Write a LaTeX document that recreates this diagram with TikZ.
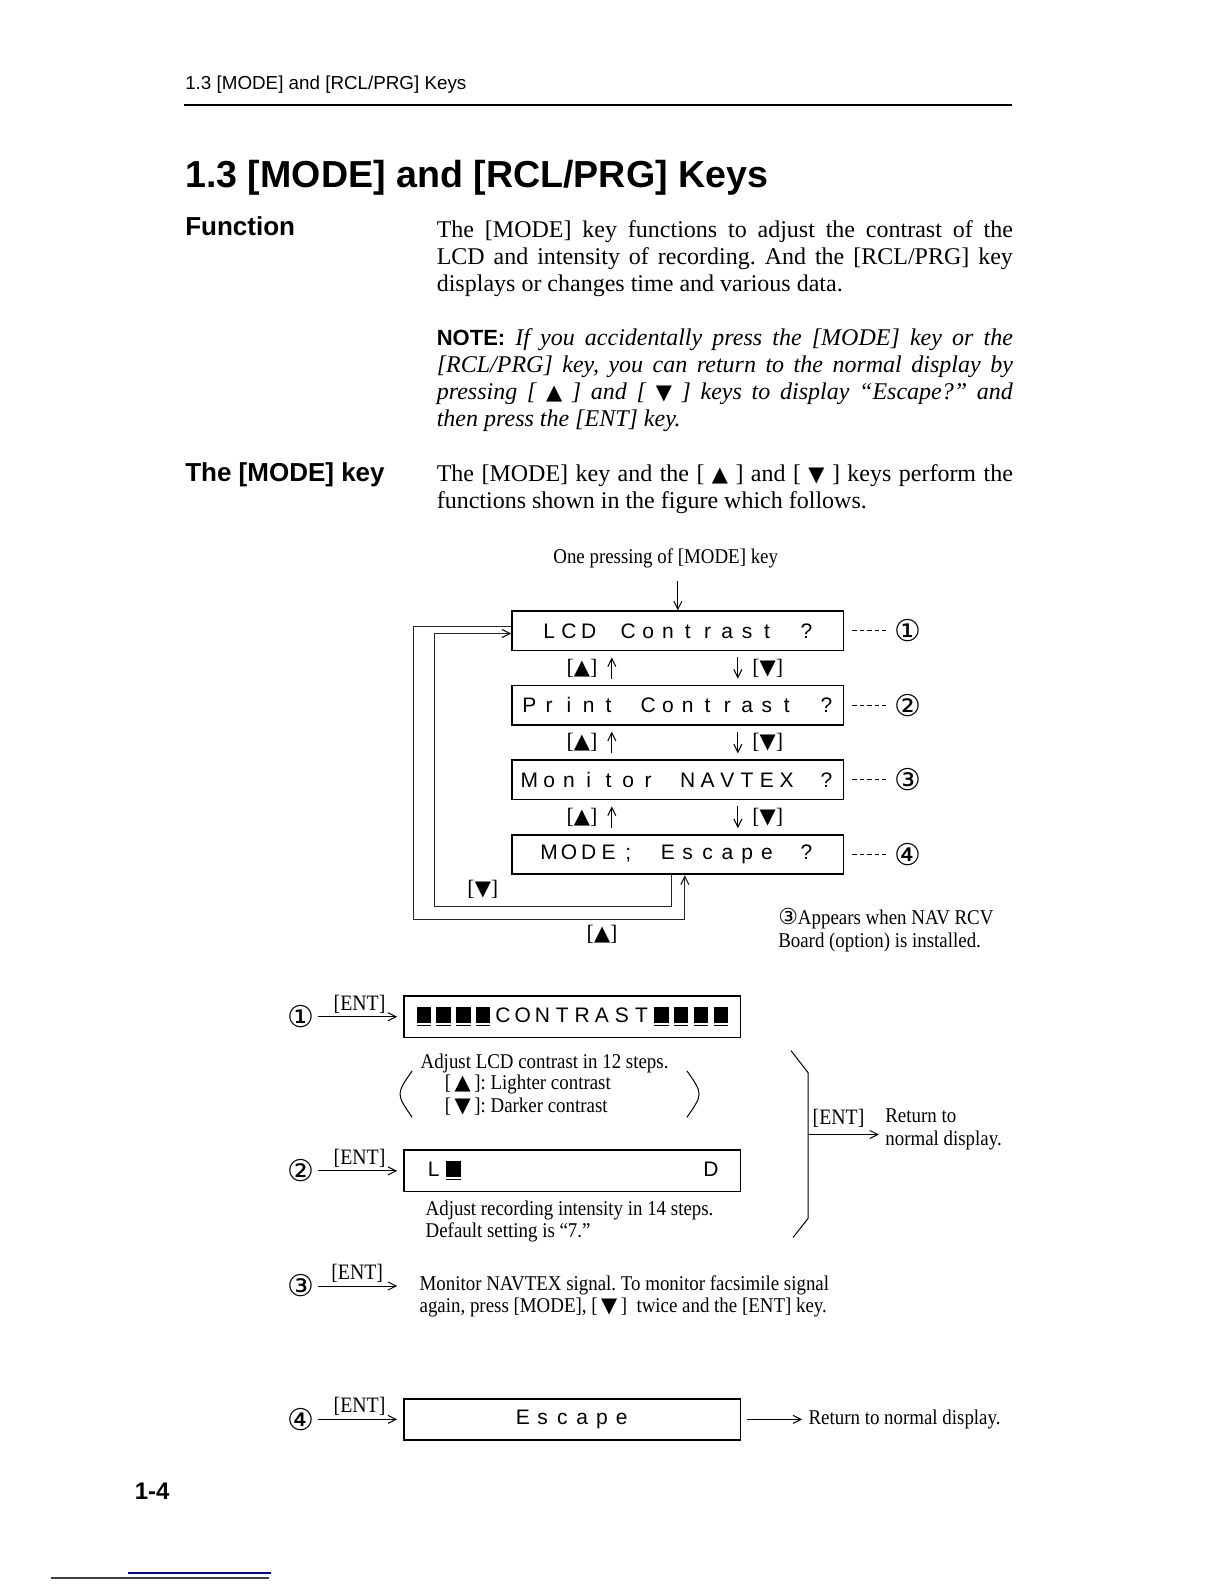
\documentclass[tikz,border=0pt]{standalone}
\usepackage{fontspec}
\setmainfont{Liberation Serif}
\setsansfont{Liberation Sans}
\newfontfamily\condfont[FakeStretch=0.9]{Liberation Serif}
\newfontfamily\lcdfont{Liberation Sans}
\newfontfamily\symfont{DejaVu Sans}
\usetikzlibrary{arrows.meta}
\frenchspacing

\newlength\lcdpitch
\setlength\lcdpitch{9.9pt}
\makeatletter
\newcommand\lcdstr[1]{\@tfor\lcd@c:=#1\do{\makebox[\lcdpitch]{\lcd@c}}}
\makeatother
\newcommand\lcdblk{\rlap{\rule[-1.8pt]{7.2pt}{0.5pt}}\rule{7.2pt}{7.8pt}}
\newcommand\keyup{{\symfont\fontsize{10.5}{10.5}\selectfont ▲}}
\newcommand\keydn{{\symfont\fontsize{10.5}{10.5}\selectfont ▼}}

\tikzset{
  txt/.style={inner sep=0pt,anchor=base west},
  para/.style={text width=288pt,align=justify},
  small/.style={inner sep=0pt,font=\condfont\fontsize{10.5}{11.1}\selectfont},
  lcdbox/.style={draw,line width=0.9pt,minimum width=165.6pt,minimum height=19.7pt,
    inner sep=0pt,font=\lcdfont\fontsize{10.5}{11}\selectfont},
  lowbox/.style={lcdbox,minimum width=168.2pt,minimum height=20.7pt},
  circ/.style={inner sep=0.5pt,font=\symfont\fontsize{15}{15}\selectfont},
  keylbl/.style={inner sep=0pt,font=\fontsize{11}{11}\selectfont},
  keyarr/.style={->,line width=0.5pt,shorten <=3pt,shorten >=3pt},
  dotline/.style={line width=0.5pt,dash pattern=on 2.2pt off 1.5pt,shorten <=4pt,shorten >=3pt},
  loopline/.style={line width=0.6pt,black!85},
  entarr/.style={->,line width=0.5pt,shorten <=1pt,shorten >=3pt},
  entlbl/.style={inner sep=1.5pt,font=\condfont\fontsize{11}{11}\selectfont}
}

\begin{document}
\begin{tikzpicture}[x=0.505pt,y=-0.505pt,>={Straight Barb[length=4pt,width=4pt]},
  font=\fontsize{12}{13.5}\selectfont]
\useasboundingbox (0,0) rectangle (1212,1568);

\node[txt,font=\sffamily\fontsize{9.4}{11}\selectfont] (head) at (183,89) {1.3 [MODE] and [RCL/PRG] Keys};
\draw[line width=1.1pt] (182,104) -- (1002,104);
\node[txt,font=\sffamily\bfseries\fontsize{18.8}{22}\selectfont] (title) at (183,186) {1.3 [MODE] and [RCL/PRG] Keys};

\node[txt,font=\sffamily\bfseries\fontsize{13}{15}\selectfont] (hfunc) at (183,233) {Function};
\node[txt,para] (p1) at (432,235) {The [MODE] key functions to adjust the contrast of the\linebreak{}
  LCD and intensity of recording. And the [RCL/PRG] key\linebreak{}
  displays or changes time and various data.};
\node[txt,para,font=\itshape\fontsize{12}{13.5}\selectfont] (note) at (432,342)
  {{\upshape\sffamily\bfseries\fontsize{11}{13.5}\selectfont NOTE:} If you accidentally press the [MODE] key or the\linebreak{}
  [RCL/PRG] key, you can return to the normal display by\linebreak{}
  pressing [ \keyup\ ] and [ \keydn\ ] keys to display “Escape?” and\linebreak{}
  then press the [ENT] key.};
\node[txt,font=\sffamily\bfseries\fontsize{13}{15}\selectfont] (hmode) at (183,477) {The [MODE] key};
\node[txt,para] (p3) at (432,477) {The [MODE] key and the [ \keyup\ ] and [ \keydn\ ] keys perform the\linebreak{}
  functions shown in the figure which follows.};

% menu of the [MODE] key
\node[small] (press) at (659,553) {One pressing of [MODE] key};
\foreach \n/\lcdtxt/\y/\c in {1/{LCD~Contrast~?}/624.5/①,2/{Print~Contrast~?}/698/②,
    3/{Monitor~NAVTEX~?}/772/③,4/{MODE;~Escape~?}/846/④}{
  \node[lcdbox] (b\n) at (671,\y) {\expandafter\lcdstr\expandafter{\lcdtxt}};
  \node[circ] (n\n) at (899,\y) {\c};
  \draw[dotline] (b\n) -- (n\n);
}
\draw[->,line width=0.5pt,shorten <=6pt] (press.south -| b1.north) -- (b1.north);
\foreach \a/\b in {1/2,2/3,3/4}{
  \draw[keyarr] ([xshift=-33pt]b\b.north) -- node[keylbl,left=7pt]{[\keyup]} ([xshift=-33pt]b\a.south);
  \draw[keyarr] ([xshift=30pt]b\a.south) -- node[keylbl,right=7pt]{[\keydn]} ([xshift=30pt]b\b.north);
}
\coordinate (outer) at (409,910);
\coordinate (inner) at (430,897);
\draw[loopline,->] ([yshift=2.3pt]b1.west) -| (outer) -| ([xshift=3.5pt]b4.south);
\draw[loopline,->] ([xshift=-3pt]b4.south) |- (inner) |- ([yshift=-1.3pt]b1.west);
\node[keylbl] (kdn) at (478,880) {[\keydn]};
\node[keylbl] (kup) at (596,925) {[\keyup]};
\node[small,anchor=north west,align=left] (nav) at (770,899)
  {{\symfont\fontsize{11}{11}\selectfont ③}Appears when NAV RCV\\Board (option) is installed.};

% what [ENT] does
\foreach \n/\c/\y in {1/①/1006.5,2/②/1159,3/③/1273,4/④/1405}
  \node[circ] (c\n) at (298,\y) {\c};
\node[lowbox] (e1) at (566.5,1006.5) {\lcdstr{\lcdblk\lcdblk\lcdblk\lcdblk CONTRAST\lcdblk\lcdblk\lcdblk\lcdblk}};
\node[lowbox] (e2) at (566.5,1159) {\lcdstr{L\lcdblk~~~~~~~~~~~~D}};
\node[lowbox] (e4) at (566.5,1405) {\lcdstr{Escape}};
\foreach \n in {1,2,4}
  \draw[entarr] (c\n) -- node[entlbl,above]{[ENT]} (e\n);

\node[small,anchor=north west] (adj1) at (416,1043) {Adjust LCD contrast in 12 steps.};
\node[small,anchor=north west,align=left] (keys) at (440,1064)
  {[\,\keyup\,]: Lighter contrast\\{}[\,\keydn\,]: Darker contrast};
\draw[line width=0.5pt] (408,1060) .. controls (392,1083) .. (408,1106);
\draw[line width=0.5pt] (680,1060) .. controls (696,1083) .. (680,1106);
\node[small,anchor=north west,align=left] (adj2) at (421,1188)
  {Adjust recording intensity in 14 steps.\\Default setting is “7.”};

\node[small,anchor=north west,align=left] (t3) at (415,1262)
  {Monitor NAVTEX signal. To monitor facsimile signal\\again, press [MODE], [\,\keydn\,]\ \ twice and the [ENT] key.};
\draw[entarr,shorten >=11pt] (c3) -- node[entlbl,above,pos=0.4]{[ENT]} (c3 -| t3.west);

\draw[line width=0.5pt] (783,1040) -- (800,1062) -- (800,1206) -- (785,1225);
\coordinate (brk) at (800,1123);
\node[small,anchor=west,align=left] (ret) at (876,1118) {Return to\\normal display.};
\draw[entarr,shorten <=0pt] (brk) -- node[entlbl,above=2pt,xshift=-4pt]{[ENT]} (brk -| ret.west);

\node[small,anchor=west] (ret4) at (800,1405) {Return to normal display.};
\draw[entarr,shorten <=3pt] (e4) -- (ret4);

\node[txt,font=\sffamily\bfseries\fontsize{12}{14}\selectfont] (pg) at (133,1484) {1-4};
\draw[line width=1pt,black!75] (50,1562) -- (266,1562);
\draw[line width=0.6pt,blue!60!black] (127,1557) -- (268,1557);
\end{tikzpicture}
\end{document}
